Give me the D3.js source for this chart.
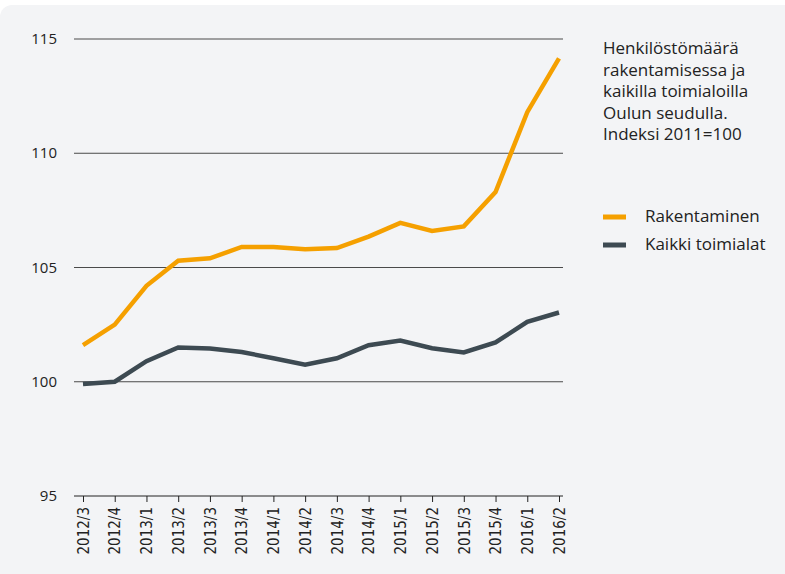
<!DOCTYPE html>
<html>
<head>
<meta charset="utf-8">
<script src="https://cdn.jsdelivr.net/npm/d3@7"></script>
<style>
  body { margin: 0; background: #fff; }
  svg { display: block; }
</style>
</head>
<body>
<svg id="chart" width="785" height="574"></svg>
<script>
// kvartaalit
var quarters = ["2012/3","2012/4","2013/1","2013/2","2013/3","2013/4","2014/1","2014/2",
  "2014/3","2014/4","2015/1","2015/2","2015/3","2015/4","2016/1","2016/2"]
var rakentaminen = [101.6,102.5,104.2,105.3,105.4,105.9,105.9,105.8,
  105.85,106.35,106.95,106.6,106.8,108.3,111.8,114.15]
var kaikki = [99.9,100.0,100.9,101.5,101.45,101.3,101.03,100.75,
  101.03,101.6,101.8,101.47,101.28,101.72,102.62,103.03]
var yTicks = [95,100,105,110,115]
var titleLines = ["Henkilöstömäärä","rakentamisessa ja","kaikilla toimialoilla","Oulun seudulla.","Indeksi 2011=100"]
var seriesNames = ["Rakentaminen","Kaikki toimialat"]
var colors = ["#f5a000","#3d4a52"]

var svg = d3.select("#chart")
var font = "'Open Sans', 'Noto Sans', sans-serif"

// tausta
svg.append("rect")
  .attr("x", 0).attr("y", 5)
  .attr("width", 800).attr("height", 580)
  .attr("rx", 12)
  .style("fill", "#f3f4f6")

var left = 74, right = 563
var xScale = d3.scalePoint().domain(quarters).range([83, 559])
var yScale = d3.scaleLinear().domain([95, 115]).range([496, 39])

// vaakaviivat
var grid = svg.append("g")
grid.selectAll("line")
  .data(yTicks.filter(function (d) { return d != 95 }))
  .enter()
  .append("line")
  .attr("x1", left).attr("x2", right)
  .attr("y1", function (d) { return yScale(d) })
  .attr("y2", function (d) { return yScale(d) })
  .style("stroke", "#4a4a4a")
  .style("stroke-width", 1)

// y-akselin tekstit
svg.append("g")
  .selectAll("text")
  .data(yTicks)
  .enter()
  .append("text")
  .attr("x", 57)
  .attr("y", function (d) { return yScale(d) + 5 })
  .attr("text-anchor", "end")
  .style("font-family", font)
  .style("font-size", "15px")
  .style("fill", "#222")
  .text(function (d) { return d })

// x-akseli
var xAxis = svg.append("g")
  .attr("transform", "translate(0,496)")
  .call(d3.axisBottom(xScale).tickSize(6).tickPadding(6))
xAxis.select(".domain")
  .attr("d", "M" + left + ",0H" + right)
  .style("stroke", "#222")
xAxis.selectAll(".tick line").style("stroke", "#222")
xAxis.selectAll("text")
  .attr("transform", "rotate(-90)")
  .attr("x", -11)
  .attr("y", 0)
  .attr("dy", "0.35em")
  .attr("text-anchor", "end")
  .style("font-family", "'Liberation Sans Narrow', 'DejaVu Sans Condensed', sans-serif")
  .style("font-size", "15px")
  .style("fill", "#222")

// viivat
var line = d3.line()
  .x(function (d, i) { return xScale(quarters[i]) })
  .y(function (d) { return yScale(d) })

var allSeries = [rakentaminen, kaikki]
for (let i = 0; i < allSeries.length; i++) {
  svg.append("path")
    .datum(allSeries[i])
    .attr("d", line)
    .style("fill", "none")
    .style("stroke", colors[i])
    .style("stroke-width", 4.5)
    .style("stroke-linejoin", "miter")
}

// otsikko
svg.append("g")
  .selectAll("text")
  .data(titleLines)
  .enter()
  .append("text")
  .attr("x", 603)
  .attr("y", function (d, i) { return 54 + i * 21.5 })
  .style("font-family", font)
  .style("font-size", "17px")
  .style("fill", "#222")
  .text(function (d) { return d })

// selite
var legend = svg.append("g")
for (let i = 0; i < seriesNames.length; i++) {
  legend.append("line")
    .attr("x1", 603).attr("x2", 626)
    .attr("y1", 217 + i * 28).attr("y2", 217 + i * 28)
    .style("stroke", colors[i])
    .style("stroke-width", 5)
  legend.append("text")
    .attr("x", 645)
    .attr("y", 222 + i * 28)
    .style("font-family", font)
    .style("font-size", "17px")
    .style("fill", "#222")
    .text(seriesNames[i])
}
</script>
</body>
</html>
